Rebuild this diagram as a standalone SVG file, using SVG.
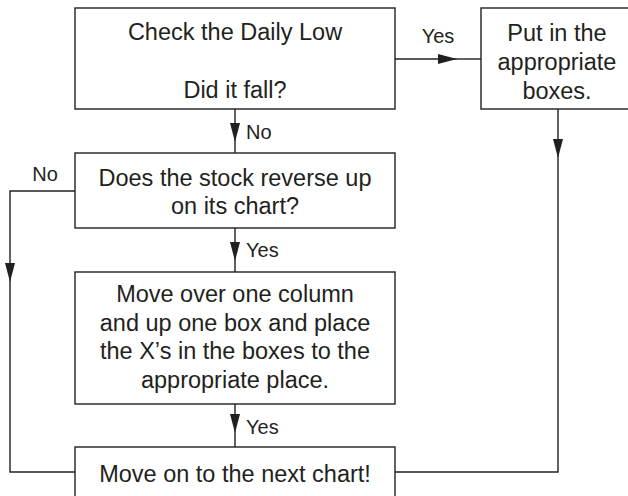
<svg xmlns="http://www.w3.org/2000/svg" width="628" height="496" viewBox="0 0 628 496">
<defs>
<marker id="ah" viewBox="0 0 19 10" refX="19" refY="5" markerWidth="19" markerHeight="10" markerUnits="userSpaceOnUse" orient="auto">
<path d="M0,0 L19,5 L0,10 Z" fill="#231f20"/>
</marker>
<style>
.box{fill:#fff;stroke:#231f20;stroke-width:1.4}
.t{font-family:"Liberation Sans",Arial,sans-serif;font-size:23.5px;fill:#231f20;text-anchor:middle}
.l{font-family:"Liberation Sans",Arial,sans-serif;font-size:20px;fill:#231f20}
.c{fill:none;stroke:#231f20;stroke-width:1.4}
</style>
</defs>
<rect width="628" height="496" fill="#fff"/>
<g id="connectors">
<path class="c" d="M395,59 L457,59" marker-end="url(#ah)"/>
<path class="c" d="M457,59 L481,59"/>
<path class="c" d="M235,109 L235,142" marker-end="url(#ah)"/>
<path class="c" d="M235,142 L235,153"/>
<path class="c" d="M235,228 L235,261" marker-end="url(#ah)"/>
<path class="c" d="M235,261 L235,272"/>
<path class="c" d="M235,404 L235,433" marker-end="url(#ah)"/>
<path class="c" d="M235,433 L235,447"/>
<path class="c" d="M75,191 L10,191 L10,282" marker-end="url(#ah)"/>
<path class="c" d="M10,282 L10,472 L75,472"/>
<path class="c" d="M558,109 L558,158" marker-end="url(#ah)"/>
<path class="c" d="M558,158 L558,472 L395,472"/>
<text class="l" x="438" y="43" text-anchor="middle">Yes</text>
<text class="l" x="246" y="139">No</text>
<text class="l" x="45" y="181" text-anchor="middle">No</text>
<text class="l" x="246" y="257">Yes</text>
<text class="l" x="246" y="434">Yes</text>
</g>
<g id="check">
<rect class="box" x="75" y="8" width="320" height="101"/>
<text class="t" x="235" y="40">Check the Daily Low</text>
<text class="t" x="235" y="98">Did it fall?</text>
</g>
<g id="put">
<rect class="box" x="481" y="8" width="160" height="101"/>
<text class="t" x="557" y="41">Put in the</text>
<text class="t" x="557" y="70">appropriate</text>
<text class="t" x="557" y="99">boxes.</text>
</g>
<g id="reverse">
<rect class="box" x="75" y="153" width="320" height="75"/>
<text class="t" x="235" y="186">Does the stock reverse up</text>
<text class="t" x="235" y="214">on its chart?</text>
</g>
<g id="move">
<rect class="box" x="75" y="272" width="320" height="132"/>
<text class="t" x="235" y="302">Move over one column</text>
<text class="t" x="235" y="331">and up one box and place</text>
<text class="t" x="235" y="359">the X’s in the boxes to the</text>
<text class="t" x="235" y="388">appropriate place.</text>
</g>
<g id="next">
<rect class="box" x="75" y="447" width="320" height="60"/>
<text class="t" x="235" y="482">Move on to the next chart!</text>
</g>
</svg>
